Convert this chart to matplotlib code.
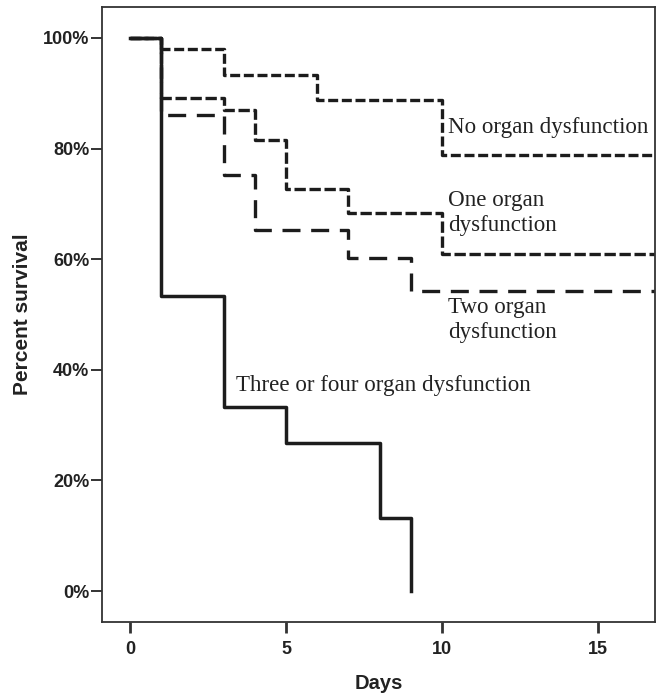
import numpy as np
import matplotlib
matplotlib.use("Agg")
import matplotlib.pyplot as plt

# Kaplan-Meier steps (days, percent survival)
dias_none = [0, 1, 3, 6, 10, 17]
surv_none = [100, 98.0, 93.3, 88.8, 78.8, 78.8]

dias_one = [0, 1, 3, 4, 5, 7, 10, 17]
surv_one = [100, 89.2, 87.0, 81.6, 72.7, 68.3, 60.9, 60.9]

dias_two = [0, 1, 3, 4, 7, 9, 17]
surv_two = [100, 86.1, 75.2, 65.3, 60.2, 54.2, 54.2]

dias_three = [0, 1, 3, 5, 8, 9]
surv_three = [100, 53.3, 33.3, 26.7, 13.3, 0]

yticks = [0, 20, 40, 60, 80, 100]
xticks = [0, 5, 10, 15]

color = "#1c1c1c"
serif = "Liberation Serif"
sans = "Liberation Sans"

fig = plt.figure(figsize=(6.61, 6.94), dpi=100)
ax = fig.add_axes([0.1543, 0.1037, 0.8366, 0.8862])

lw = 2.4
ax.step(dias_none, surv_none, where="post", color=color, lw=lw,
        dashes=(3.0, 1.1), zorder=2)
ax.step(dias_one, surv_one, where="post", color=color, lw=lw,
        dashes=(3.4, 1.1), zorder=2)
ax.step(dias_two, surv_two, where="post", color=color, lw=lw,
        dashes=(5.4, 3.2), zorder=2)
ax.step(dias_three, surv_three, where="post", color=color, lw=2.5,
        zorder=3)

ax.set_xlim(-0.9, 16.83)
ax.set_ylim(-5.6, 105.6)
ax.set_xticks(xticks)
ax.set_yticks(yticks)
ax.set_yticklabels([f"{v}%" for v in yticks])

for s in ax.spines.values():
    s.set_linewidth(1.3)
    s.set_color("#333333")

ax.tick_params(axis="y", direction="out", length=8, width=1.4, pad=1,
               color="#333333", labelsize=13)
ax.tick_params(axis="x", direction="out", length=8, width=2.0, pad=6,
               color="#333333", labelsize=13)
for lab in ax.get_xticklabels() + ax.get_yticklabels():
    lab.set_fontfamily(sans)
    lab.set_fontweight("bold")
    lab.set_color("#222222")

ax.set_xlabel("Days", fontfamily=sans, fontweight="bold", fontsize=14.5,
              color="#222222", labelpad=11)
ax.set_ylabel("Percent survival", fontfamily=sans, fontweight="bold",
              fontsize=15, color="#222222", labelpad=8)

tk = dict(fontfamily=serif, fontsize=16.6, color="#222222", va="center",
          ha="left", linespacing=1.25)
ax.text(10.2, 83.9, "No organ dysfunction", **tk)
ax.text(10.2, 68.3, "One organ\ndysfunction", **tk)
ax.text(10.2, 49.0, "Two organ\ndysfunction", **tk)
ax.text(3.4, 37.2, "Three or four organ dysfunction", **tk)

fig.savefig("out.png", dpi=100)
